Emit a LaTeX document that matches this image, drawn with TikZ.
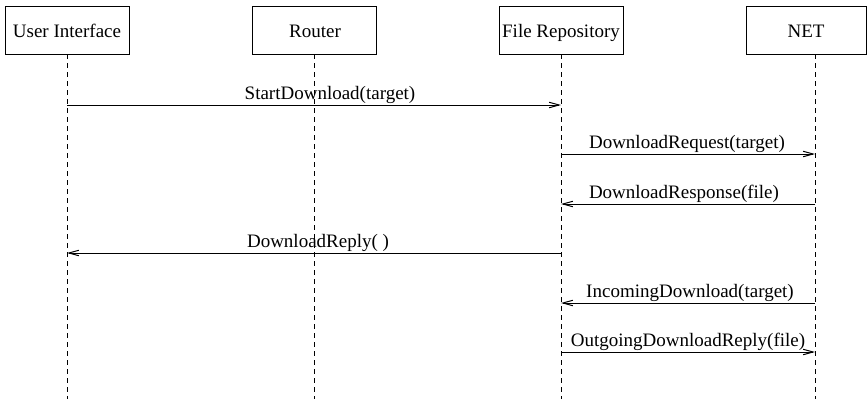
\documentclass[tikz,border=0pt]{standalone}
\usepackage{fontspec}
\setmainfont{Liberation Serif}
\usetikzlibrary{arrows.meta}
\begin{document}
\begin{tikzpicture}[x=1pt,y=-1pt,
  actor/.style={draw,line width=1pt,rectangle},
  lifeline/.style={line width=1pt,dash pattern=on 5pt off 4pt},
  msg/.style={line width=1pt,-{Straight Barb[length=10pt,width=5.5pt,line width=1pt]}},
  lbl/.style={anchor=base,font=\fontsize{19}{22}\selectfont,inner sep=0pt}]
\useasboundingbox (0,0) rectangle (867,399);
% actor boxes
\draw[actor] (5,6) rectangle (129,54);
\draw[actor] (252,6) rectangle (376,54);
\draw[actor] (499,6) rectangle (623,54);
\draw[actor] (746,6) rectangle (866,54);
\node[lbl] (tui) at (67,37) {User Interface};
\node[lbl] (trt) at (315,37) {Router};
\node[lbl] (tfr) at (561,37) {File Repository};
\node[lbl] (tnet) at (806,37) {NET};
% lifeline endpoints
\coordinate (ui0) at (67,54);  \coordinate (ui1) at (67,399);
\coordinate (rt0) at (314,54); \coordinate (rt1) at (314,399);
\coordinate (fr0) at (561,54); \coordinate (fr1) at (561,399);
\coordinate (nt0) at (815,54); \coordinate (nt1) at (815,399);
\draw[lifeline] (ui0) -- (ui1);
\draw[lifeline] (rt0) -- (rt1);
\draw[lifeline] (fr0) -- (fr1);
\draw[lifeline] (nt0) -- (nt1);
% message anchor points
\coordinate (uiA) at (67,105);  \coordinate (frA) at (561,105);
\coordinate (frB) at (561,154); \coordinate (ntB) at (815,154);
\coordinate (frC) at (561,204); \coordinate (ntC) at (815,204);
\coordinate (uiD) at (67,253);  \coordinate (frD) at (561,253);
\coordinate (frE) at (561,303); \coordinate (ntE) at (815,303);
\coordinate (frF) at (561,352); \coordinate (ntF) at (815,352);
\draw[msg] (uiA) -- (frA);
\draw[msg] (frB) -- (ntB);
\draw[msg] (ntC) -- (frC);
\draw[msg] (frD) -- (uiD);
\draw[msg] (ntE) -- (frE);
\draw[msg] (frF) -- (ntF);
\node[lbl] (m1) at (330,99) {StartDownload(target)};
\node[lbl] (m2) at (687,148) {DownloadRequest(target)};
\node[lbl] (m3) at (684,198) {DownloadResponse(file)};
\node[lbl] (m4) at (318,247) {DownloadReply( )};
\node[lbl] (m5) at (690,297) {IncomingDownload(target)};
\node[lbl] (m6) at (688,346) {OutgoingDownloadReply(file)};
\end{tikzpicture}
\end{document}
